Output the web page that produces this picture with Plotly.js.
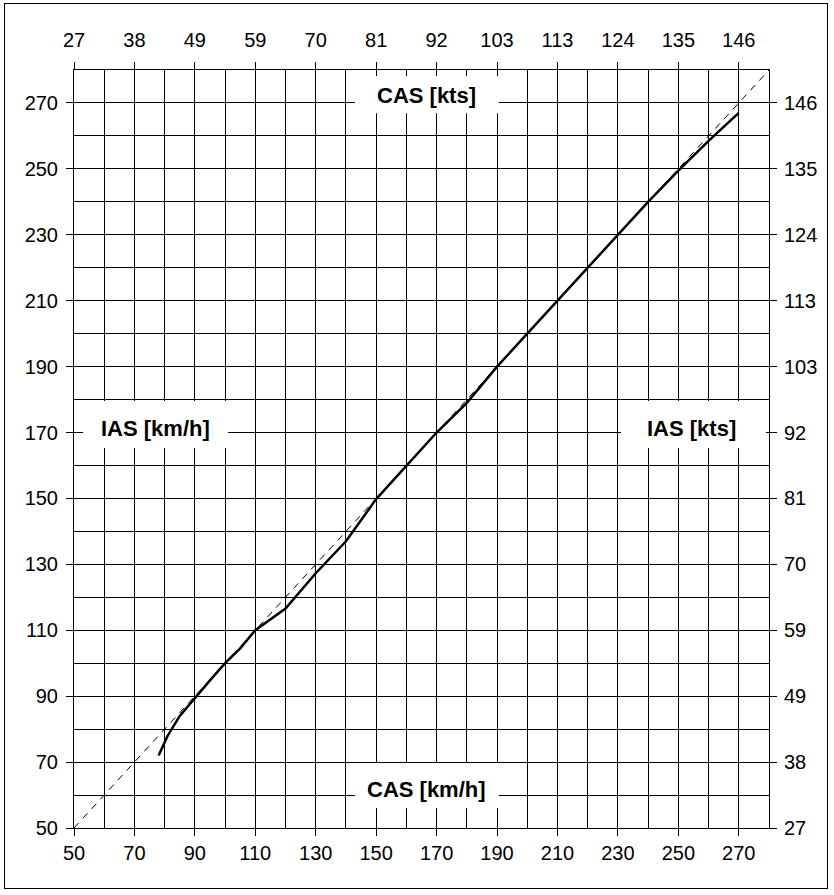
<!DOCTYPE html>
<html>
<head>
<meta charset="utf-8">
<script src="https://cdn.plot.ly/plotly-3.0.1.min.js"></script>
<style>
  html, body { margin: 0; padding: 0; background: #fff; }
  #chart { position: absolute; left: 0; top: 0; width: 834px; height: 895px; }
  #frame { position: absolute; left: 4px; top: 3px; width: 822px; height: 884px; border: 1px solid #000; pointer-events: none; }
</style>
</head>
<body>
<div id="chart"></div>
<div id="frame"></div>
<script>
// ---- data ----
const casKmh = [78, 81, 85, 90, 95, 100, 105, 110, 120, 130, 140, 150, 160, 170, 180, 190, 200, 210, 220, 230, 240, 250, 260, 270];
const iasKmh = [72, 78, 84, 89.5, 94.8, 100, 104.5, 110, 116.6, 127.3, 137, 149.8, 160, 170, 179, 190, 200, 210, 220, 230, 240, 249.5, 258.5, 267];
const refLine = [50, 280];
const kmhTicks = [50, 70, 90, 110, 130, 150, 170, 190, 210, 230, 250, 270];
const ktsTickLabels = ['27', '38', '49', '59', '70', '81', '92', '103', '113', '124', '135', '146'];
const gridKmh = [50, 60, 70, 80, 90, 100, 110, 120, 130, 140, 150, 160, 170, 180, 190, 200, 210, 220, 230, 240, 250, 260, 270, 280];
const axisRange = [50, 280];

const font = 'Liberation Sans, Arial, Helvetica, sans-serif';
const tickFont = { family: font, size: 20, color: '#000' };

const traces = [
  { x: refLine, y: refLine, type: 'scatter', mode: 'lines',
    line: { color: '#000', width: 1, dash: '7px,6px' }, hoverinfo: 'skip' },
  { x: casKmh, y: iasKmh, type: 'scatter', mode: 'lines',
    line: { color: '#000', width: 2.5 }, hoverinfo: 'skip' },
  { x: refLine, y: refLine, xaxis: 'x2', yaxis: 'y2', type: 'scatter', mode: 'lines',
    line: { width: 0 }, opacity: 0, hoverinfo: 'skip' }
];

function baseAxis(extra) {
  return Object.assign({
    range: axisRange,
    tickmode: 'array',
    tickvals: kmhTicks,
    ticks: 'outside', ticklen: 7, tickwidth: 1, tickcolor: '#000',
    showline: true, linecolor: '#000', linewidth: 1,
    zeroline: false,
    tickfont: tickFont,
    fixedrange: true
  }, extra);
}

const minorGrid = { tickmode: 'array', tickvals: gridKmh, showgrid: true, gridcolor: '#000', gridwidth: 1, ticks: '' };

const boxes = [
  { x0: 143, x1: 190.6, y0: 266.9, y1: 278.2 },
  { x0: 53, x1: 101, y0: 165.3, y1: 179.6 },
  { x0: 231, x1: 279, y0: 165.3, y1: 179.6 },
  { x0: 143, x1: 190.6, y0: 56.1, y1: 69.7 }
];

const labels = [
  { text: 'CAS [kts]', x: 166.5, y: 272.4 },
  { text: 'IAS [km/h]', x: 77.1, y: 171.1 },
  { text: 'IAS [kts]', x: 254.5, y: 171.2 },
  { text: 'CAS [km/h]', x: 166.5, y: 61.7 }
];

const layout = {
  width: 834, height: 895,
  margin: { l: 74, r: 65, t: 70, b: 67, pad: 0 },
  paper_bgcolor: '#fff', plot_bgcolor: '#fff',
  showlegend: false,
  xaxis: baseAxis({ showgrid: true, gridcolor: '#000', gridwidth: 1, minor: minorGrid, side: 'bottom' }),
  yaxis: baseAxis({ showgrid: true, gridcolor: '#000', gridwidth: 1, minor: minorGrid, side: 'left', ticklabelstandoff: 4 }),
  xaxis2: baseAxis({ overlaying: 'x', side: 'top', anchor: 'y', ticktext: ktsTickLabels, showgrid: false, ticklabelstandoff: 7 }),
  yaxis2: baseAxis({ overlaying: 'y', side: 'right', anchor: 'x', ticktext: ktsTickLabels, showgrid: false, ticklabelstandoff: 3 }),
  shapes: boxes.map(b => ({ type: 'rect', xref: 'x', yref: 'y', x0: b.x0, x1: b.x1, y0: b.y0, y1: b.y1,
    fillcolor: '#fff', line: { width: 0 }, layer: 'above' })),
  annotations: labels.map(l => ({ text: l.text, x: l.x, y: l.y, xref: 'x', yref: 'y', showarrow: false,
    xanchor: 'center', yanchor: 'middle', font: { family: font, size: 22, color: '#000', weight: 'bold' } }))
};

Plotly.newPlot('chart', traces, layout, { staticPlot: true, displayModeBar: false });
</script>
</body>
</html>
